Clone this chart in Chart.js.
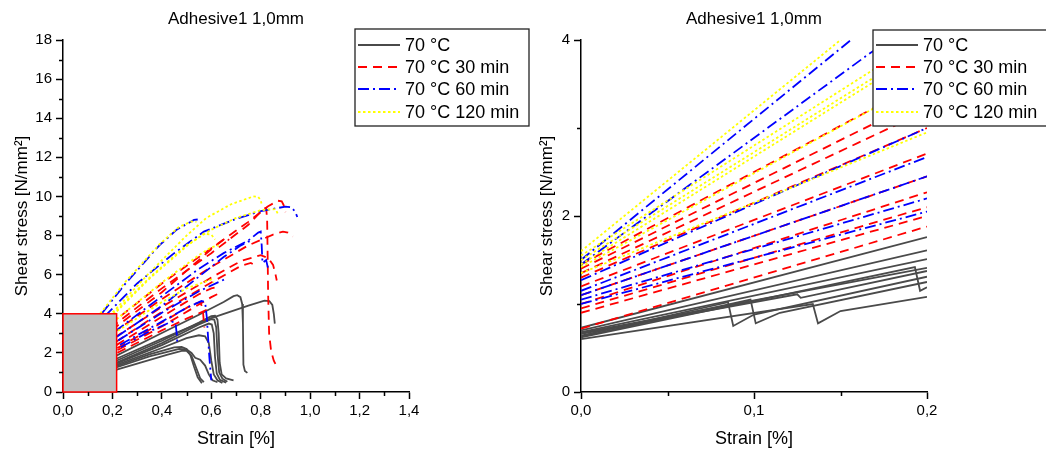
<!DOCTYPE html>
<html>
<head>
<meta charset="utf-8">
<script src="https://cdn.jsdelivr.net/npm/chart.js@4.4.1/dist/chart.umd.min.js"></script>
<style>
  body { margin: 0; background: #fff; }
  #wrap { position: relative; width: 1046px; height: 450px; overflow: hidden; }
  #leftChart { position: absolute; left: 0; top: 0; }
  #rightChart { position: absolute; left: 520px; top: 0; }
</style>
</head>
<body>
<div id="wrap">
  <canvas id="leftChart" width="540" height="450" style="width:540px;height:450px"></canvas>
  <canvas id="rightChart" width="526" height="450" style="width:526px;height:450px"></canvas>
</div>
<script>
// Curves: [strain %, shear stress N/mm²]
const curves70 = [
  [[0,0.73],[0.2,1.76],[0.4,3.02],[0.55,3.95],[0.65,4.6],[0.69,4.9],[0.705,4.95],[0.718,4.85],[0.725,4.5],[0.728,3.5],[0.73,1.4],[0.736,1.08],[0.746,0.98]],
  [[0,0.7],[0.2,1.61],[0.4,2.72],[0.6,3.78],[0.75,4.42],[0.815,4.67],[0.835,4.65],[0.847,4.45],[0.853,4.0],[0.857,3.5]],
  [[0,0.68],[0.2,1.51],[0.4,2.62],[0.55,3.55],[0.6,3.88],[0.615,3.9],[0.625,3.7],[0.63,3.0],[0.634,1.5],[0.642,0.9],[0.66,0.7],[0.69,0.6]],
  [[0,0.67],[0.2,1.41],[0.4,2.5],[0.55,3.45],[0.6,3.72],[0.612,3.7],[0.62,3.3],[0.625,2.0],[0.632,1.0],[0.645,0.68],[0.665,0.52]],
  [[0,0.66],[0.125,1.11],[0.127,1.07],[0.2,1.375],[0.4,2.4],[0.55,3.3],[0.59,3.5],[0.602,3.45],[0.61,3.0],[0.615,1.8],[0.622,0.95],[0.635,0.62],[0.66,0.48]],
  [[0,0.64],[0.085,1.02],[0.088,0.75],[0.1,0.88],[0.2,1.31],[0.4,2.25],[0.5,2.75],[0.55,2.9],[0.575,2.85],[0.59,2.5],[0.6,1.6],[0.61,0.9],[0.625,0.6],[0.645,0.46]],
  [[0,0.63],[0.098,1.05],[0.101,0.78],[0.115,0.9],[0.2,1.25],[0.35,1.92],[0.45,2.28],[0.48,2.3],[0.5,2.2],[0.515,1.9],[0.53,1.3],[0.545,0.75],[0.562,0.45]],
  [[0,0.62],[0.193,1.42],[0.196,1.15],[0.2,1.19],[0.35,1.82],[0.47,2.2],[0.5,2.18],[0.52,2.0],[0.535,1.75],[0.555,1.65],[0.575,1.35],[0.59,0.9],[0.605,0.6],[0.625,0.5]],
  [[0,0.6],[0.134,1.0],[0.137,0.78],[0.15,0.92],[0.2,1.08],[0.3,1.45],[0.42,1.9],[0.48,2.1],[0.5,2.1],[0.52,1.85],[0.54,1.2],[0.555,0.7],[0.57,0.5]]
];
const curves30 = [
  [[0,1.45],[0.2,3.55],[0.4,5.55],[0.6,7.35],[0.75,8.7],[0.83,9.5],[0.87,9.78],[0.885,9.75],[0.895,9.5],[0.9,9.2]],
  [[0,1.4],[0.2,3.35],[0.4,5.3],[0.6,7.1],[0.75,8.55],[0.81,9.35],[0.822,9.42],[0.826,8.8],[0.828,7.0],[0.83,5.0],[0.834,3.0],[0.842,2.1],[0.853,1.6],[0.862,1.38]],
  [[0,1.3],[0.2,3.0],[0.4,4.75],[0.6,6.4],[0.75,7.5],[0.85,8.05],[0.89,8.2],[0.91,8.15],[0.93,7.95]],
  [[0,1.35],[0.2,3.2],[0.4,5.1],[0.6,7.3],[0.66,7.9],[0.672,7.75]],
  [[0,1.2],[0.2,2.71],[0.4,4.35],[0.6,5.85],[0.72,6.7],[0.8,7.0],[0.83,6.85],[0.85,6.5],[0.86,6.0],[0.865,5.7]],
  [[0,1.1],[0.2,2.45],[0.4,4.1],[0.6,5.6],[0.72,6.45],[0.76,6.6],[0.775,6.5]],
  [[0,1.0],[0.2,2.27],[0.4,3.85],[0.55,5.0],[0.6,5.3],[0.62,5.35]],
  [[0,0.95],[0.2,2.1],[0.4,3.55],[0.52,4.45],[0.555,4.6],[0.565,4.3],[0.572,3.3]],
  [[0,0.9],[0.2,2.0],[0.4,3.35],[0.6,4.85],[0.64,5.1]],
  [[0,0.72],[0.2,1.88],[0.4,3.15],[0.5,3.75],[0.6,4.3]]
];
const curves60 = [
  [[0,1.5],[0.156,4.0],[0.25,5.5],[0.39,7.5],[0.46,8.3],[0.53,8.8],[0.545,8.82]],
  [[0,1.45],[0.167,3.85],[0.3,5.55],[0.45,7.1],[0.57,8.2],[0.7,8.85],[0.8,9.25],[0.9,9.48],[0.925,9.45],[0.94,9.2],[0.948,8.95]],
  [[0,1.27],[0.2,3.0],[0.4,4.9],[0.55,6.3],[0.65,7.1],[0.75,7.75],[0.79,8.15],[0.8,8.2],[0.804,7.5],[0.807,6.6],[0.822,6.75],[0.83,6.3]],
  [[0,1.15],[0.2,2.67],[0.4,4.4],[0.55,5.9],[0.65,6.9],[0.72,7.5],[0.75,7.7],[0.765,7.6]],
  [[0,1.1],[0.2,2.45],[0.4,4.05],[0.55,5.15],[0.66,5.8]],
  [[0,1.05],[0.2,2.2],[0.4,3.6],[0.5,4.3],[0.56,4.65],[0.575,4.6],[0.582,3.8],[0.587,2.8],[0.592,1.8],[0.598,0.9],[0.6,0.6]],
  [[0,1.0],[0.2,2.05],[0.35,3.1],[0.44,3.6],[0.455,3.55],[0.46,3.0],[0.463,2.4]]
];
const curves120 = [
  [[0,1.6],[0.15,4.0],[0.25,5.6],[0.39,7.55],[0.47,8.45],[0.52,8.72],[0.54,8.7]],
  [[0,1.55],[0.2,4.05],[0.35,6.1],[0.5,8.0],[0.58,8.9],[0.68,9.6],[0.77,10.0],[0.79,9.98],[0.8,9.8],[0.805,9.55]],
  [[0,1.5],[0.2,3.95],[0.35,5.85],[0.5,7.5],[0.6,8.3],[0.7,8.9],[0.8,9.3],[0.86,9.35],[0.87,9.1]],
  [[0,1.45],[0.2,3.9],[0.35,5.8],[0.5,7.45],[0.57,8.1],[0.6,8.05],[0.615,7.8]],
  [[0,1.42],[0.2,3.55],[0.4,5.6],[0.55,7.0],[0.6,7.4],[0.63,7.5]],
  [[0,1.35],[0.2,2.95],[0.4,4.6],[0.5,5.3],[0.6,5.75],[0.61,5.6]]
];
const groupLabels = ['70 °C', '70 °C 30 min', '70 °C 60 min', '70 °C 120 min'];
const chartTitle = 'Adhesive1 1,0mm';

// major tick values of both panels
const leftStrainTicks = [0, 0.2, 0.4, 0.6, 0.8, 1.0, 1.2, 1.4];
const leftStressTicks = [0, 2, 4, 6, 8, 10, 12, 14, 16, 18];
const rightStrainTicks = [0, 0.1, 0.2];
const rightStressTicks = [0, 2, 4];

// grey marker of the zoomed region in the left panel
const boxStrain = 0.217;
const boxStress = 4;

const groupStyles = [
  { color: '#4a4a4a', dash: [] },
  { color: '#ff0000', dash: [9, 6] },
  { color: '#0000ff', dash: [11, 4, 2, 4] },
  { color: '#ffff00', dash: [2.5, 2.5] }
];

Chart.defaults.font.family = "'Liberation Sans', Arial, sans-serif";
Chart.defaults.color = '#000';

function buildDatasets() {
  const groups = [curves70, curves30, curves60, curves120];
  const sets = [];
  groups.forEach((g, gi) => {
    g.forEach(c => {
      sets.push({
        data: c.map(p => ({ x: p[0], y: p[1] })),
        borderColor: groupStyles[gi].color,
        borderDash: groupStyles[gi].dash,
        borderWidth: 1.8,
        pointRadius: 0,
        showLine: true,
        fill: false,
        tension: 0,
        order: 4 - gi
      });
    });
  });
  return sets;
}

const isIn = (v, list) => list.some(m => Math.abs(m - v) < 1e-6);

function withMinors(majors) {
  const out = [];
  majors.forEach((m, i) => {
    out.push({ value: m });
    if (i < majors.length - 1) out.push({ value: (m + majors[i + 1]) / 2 });
  });
  return out;
}

function makePanel(id, cfg) {
  const decor = {
    id: 'decor_' + id,
    afterDatasetsDraw(chart) {
      if (!cfg.box) return;
      const { ctx, scales: { x, y } } = chart;
      const x0 = x.getPixelForValue(0), x1 = x.getPixelForValue(boxStrain);
      const y0 = y.getPixelForValue(0), y1 = y.getPixelForValue(boxStress);
      ctx.save();
      ctx.fillStyle = '#c0c0c0';
      ctx.fillRect(x0, y1, x1 - x0, y0 - y1);
      ctx.strokeStyle = '#ff0000';
      ctx.lineWidth = 1.5;
      ctx.strokeRect(x0, y1, x1 - x0, y0 - y1);
      ctx.restore();
    },
    afterDraw(chart) {
      const { ctx, chartArea, scales: { x, y } } = chart;
      ctx.save();
      // minor ticks
      ctx.strokeStyle = '#000';
      ctx.lineWidth = 1.5;
      ctx.beginPath();
      x.ticks.forEach(t => {
        if (isIn(t.value, cfg.xMajor)) return;
        const px = Math.round(x.getPixelForValue(t.value)) + 0.5;
        ctx.moveTo(px, chartArea.bottom);
        ctx.lineTo(px, chartArea.bottom + 4);
      });
      y.ticks.forEach(t => {
        if (isIn(t.value, cfg.yMajor)) return;
        const py = Math.round(y.getPixelForValue(t.value)) + 0.5;
        ctx.moveTo(chartArea.left, py);
        ctx.lineTo(chartArea.left - 4, py);
      });
      ctx.stroke();

      // title
      ctx.fillStyle = '#000';
      ctx.font = "17px 'Liberation Sans', Arial, sans-serif";
      ctx.textAlign = 'center';
      ctx.textBaseline = 'middle';
      ctx.fillText(chartTitle, (chartArea.left + chartArea.right) / 2, 19);

      // legend
      const L = cfg.legend;
      ctx.fillStyle = '#fff';
      ctx.fillRect(L.x, L.y, L.w, L.h);
      ctx.strokeStyle = '#222';
      ctx.lineWidth = 1.3;
      ctx.strokeRect(L.x, L.y, L.w, L.h);
      ctx.font = "18px 'Liberation Sans', Arial, sans-serif";
      ctx.textAlign = 'left';
      groupLabels.forEach((lab, i) => {
        const ry = L.rows[i];
        ctx.strokeStyle = groupStyles[i].color;
        ctx.setLineDash(groupStyles[i].dash);
        ctx.lineWidth = 1.8;
        ctx.beginPath();
        ctx.moveTo(L.x + 3, ry);
        ctx.lineTo(L.x + 45, ry);
        ctx.stroke();
        ctx.setLineDash([]);
        ctx.fillStyle = '#000';
        ctx.fillText(lab, L.x + 50, ry + 1);
      });
      ctx.restore();
    }
  };

  const tickLabel = (v, majors, digits) => isIn(v, majors) ? v.toFixed(digits).replace('.', ',') : '';

  return new Chart(document.getElementById(id), {
    type: 'scatter',
    data: { datasets: buildDatasets() },
    plugins: [decor],
    options: {
      responsive: false,
      animation: false,
      events: [],
      layout: { padding: { top: 40, right: cfg.padRight, left: 0, bottom: 0 } },
      plugins: { legend: { display: false }, tooltip: { enabled: false } },
      scales: {
        x: {
          type: 'linear',
          min: 0,
          max: cfg.xMax,
          afterBuildTicks: s => { s.ticks = withMinors(cfg.xMajor); },
          afterFit: s => { s.height = 58; },
          ticks: {
            autoSkip: false,
            maxRotation: 0,
            padding: 3,
            font: { size: 15 },
            callback: v => tickLabel(v, cfg.xMajor, 1)
          },
          grid: {
            drawOnChartArea: false,
            tickLength: 7,
            tickWidth: 1.5,
            tickColor: c => (c.tick && isIn(c.tick.value, cfg.xMajor)) ? '#000' : 'rgba(0,0,0,0)'
          },
          border: { display: true, color: '#000', width: 1.5 },
          title: {
            display: true,
            text: 'Strain [%]',
            font: { size: 18 },
            padding: { top: 0, bottom: 0 }
          }
        },
        y: {
          type: 'linear',
          min: 0,
          max: cfg.yMax,
          afterBuildTicks: s => { s.ticks = withMinors(cfg.yMajor); },
          afterFit: s => { s.width = cfg.axisLeft; },
          ticks: {
            autoSkip: false,
            padding: 4,
            font: { size: 15 },
            callback: v => tickLabel(v, cfg.yMajor, 0)
          },
          grid: {
            drawOnChartArea: false,
            tickLength: 7,
            tickWidth: 1.5,
            tickColor: c => (c.tick && isIn(c.tick.value, cfg.yMajor)) ? '#000' : 'rgba(0,0,0,0)'
          },
          border: { display: true, color: '#000', width: 1.5 },
          title: {
            display: true,
            text: 'Shear stress [N/mm²]',
            font: { size: 17 },
            padding: { top: cfg.yTitlePad, bottom: 0 }
          }
        }
      }
    }
  });
}

makePanel('leftChart', {
  xMax: 1.4, yMax: 18,
  xMajor: leftStrainTicks, yMajor: leftStressTicks,
  axisLeft: 63, padRight: 131, yTitlePad: 12,
  box: true,
  legend: { x: 355, y: 29, w: 174, h: 97, rows: [45, 67, 89, 112] }
});

makePanel('rightChart', {
  xMax: 0.2, yMax: 4,
  xMajor: rightStrainTicks, yMajor: rightStressTicks,
  axisLeft: 61, padRight: 119, yTitlePad: 17,
  box: false,
  legend: { x: 353, y: 30, w: 220, h: 96, rows: [45, 67, 89, 112] }
});
</script>
</body>
</html>
